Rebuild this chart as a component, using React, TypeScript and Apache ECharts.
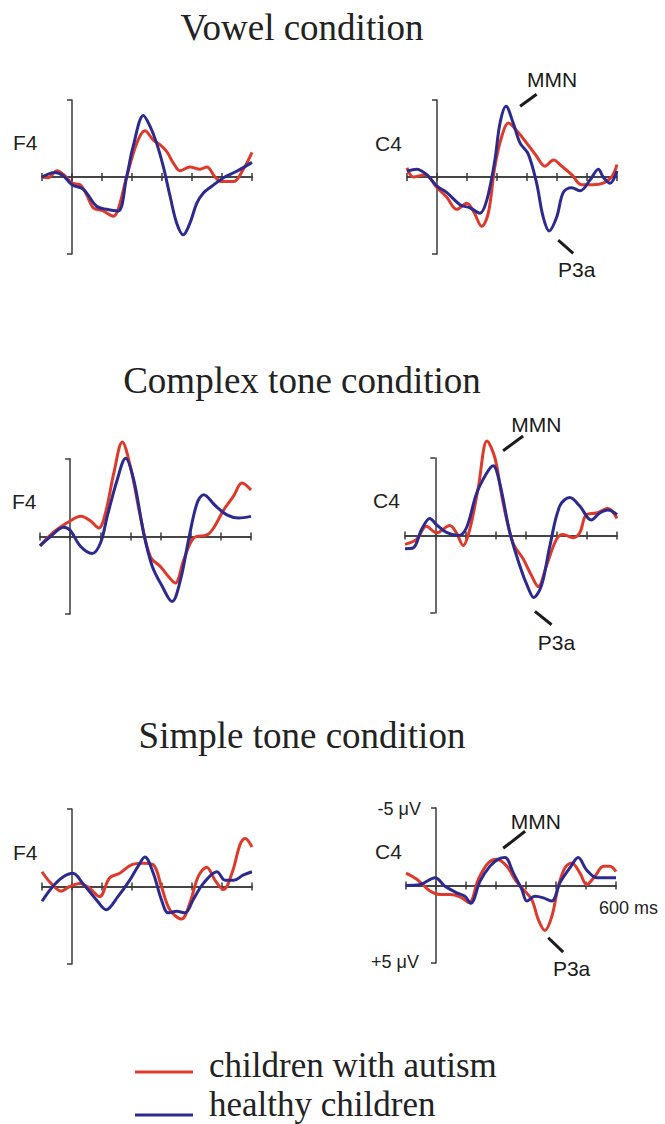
import React, { useEffect, useRef } from "react";
import * as echarts from "echarts";

// ---- Data: time (ms) vs amplitude (µV, negative plotted upward) ----
const vowelF4Autism = [[-100,0],[-80,0.05],[-50,-0.4],[-25,-0.1],[0,0.4],[27,0.5],[50,1.2],[71,2.0],[104,2.2],[138,2.55],[154,2.1],[182,0],[216,-2.2],[243,-3.0],[271,-2.4],[293,-2.1],[316,-1.65],[338,-0.9],[360,-0.4],[393,-0.65],[427,-0.5],[449,-0.65],[477,0],[499,0.3],[538,0.3],[571,-0.5],[600,-1.6]];
const vowelF4Healthy = [[-100,0],[-57,-0.3],[-30,-0.1],[0,0.5],[38,0.8],[82,1.9],[116,2.1],[154,2.2],[182,0],[204,-2.0],[238,-4.0],[260,-3.3],[282,-2.2],[304,-0.7],[327,1.25],[349,3.0],[371,3.75],[393,3.0],[416,1.7],[438,1.04],[466,0.6],[504,0.06],[549,-0.37],[600,-0.95]];
const vowelC4Autism = [[-100,-0.6],[-79,0],[-40,-0.15],[0,0.7],[32,1.3],[66,2.1],[99,1.7],[121,2.2],[149,3.2],[171,2.35],[193,-0.7],[216,-2.65],[238,-3.5],[266,-3.0],[299,-2.2],[332,-1.35],[360,-0.7],[388,-1.1],[416,-0.7],[449,-0.15],[482,0.5],[521,0.5],[554,0.4],[582,0],[600,-0.8]];
const vowelC4Healthy = [[-100,-0.37],[-68,-0.5],[-34,-0.15],[0,0.6],[32,1.0],[77,1.8],[110,2.0],[143,2.35],[166,1.5],[193,-1.1],[210,-3.5],[230,-4.6],[254,-3.5],[277,-2.2],[304,-1.5],[332,0.4],[354,2.6],[374,3.5],[399,2.6],[421,1.0],[449,0.7],[477,0.9],[510,0.2],[538,-0.5],[554,0],[577,0.4],[600,-0.4]];

const complexF4Autism = [[-100,0.6],[-54,-0.3],[0,-1.0],[35,-1.3],[68,-1.0],[95,-0.55],[117,-1.5],[145,-4.1],[173,-6.1],[200,-4.5],[233,-1.3],[266,1.3],[300,1.95],[327,2.6],[349,3.0],[377,1.5],[410,0.1],[454,-0.1],[476,-0.55],[509,-1.7],[542,-2.6],[570,-3.45],[600,-3.0]];
const complexF4Healthy = [[-100,0.6],[-65,0],[-21,-0.6],[0,-0.4],[35,0.65],[73,1.1],[101,0.4],[123,-1.3],[156,-3.65],[184,-5.05],[211,-3.65],[244,-0.2],[272,1.9],[305,3.2],[338,4.2],[366,2.8],[393,0.2],[421,-2.15],[443,-2.7],[481,-2.0],[520,-1.4],[559,-1.2],[600,-1.3]];
const complexC4Autism = [[-100,0.57],[-62,0.25],[-29,-0.6],[4,-0.17],[48,-0.65],[70,-0.17],[92,0.65],[114,-0.4],[142,-3.1],[171,-6.1],[197,-5.0],[224,-2.1],[257,0.5],[290,1.5],[318,2.6],[340,3.3],[367,1.95],[400,0.25],[422,-0.06],[455,0.15],[477,-0.17],[499,-1.35],[532,-1.45],[570,-1.75],[600,-1.1]];
const complexC4Healthy = [[-100,0.85],[-73,0.8],[-45,-0.4],[-18,-1.1],[4,-0.7],[37,-0.2],[76,0],[103,-0.5],[136,-2.7],[169,-4.0],[191,-4.5],[213,-3.35],[246,-0.2],[279,1.95],[307,3.4],[325,4.0],[351,3.2],[378,0.7],[411,-1.9],[444,-2.45],[477,-1.9],[515,-1.0],[543,-1.45],[570,-1.65],[600,-1.35]];

const simpleF4Autism = [[-100,-0.95],[-70,-0.2],[-36,0.3],[-8,0],[25,-0.2],[58,0.1],[92,0.65],[125,-0.55],[159,-0.85],[198,-1.4],[237,-1.5],[271,-1.4],[298,0],[326,1.5],[365,2.1],[393,1.05],[421,-0.65],[449,-1.25],[477,-0.4],[505,0.2],[533,-0.85],[561,-2.75],[577,-3.1],[600,-2.55]];
const simpleF4Healthy = [[-100,0.95],[-64,0],[-31,-0.6],[3,-0.85],[36,-0.2],[81,0.85],[114,1.5],[153,0.65],[192,-0.4],[220,-1.3],[243,-1.9],[271,-0.85],[298,0.85],[321,1.7],[349,1.6],[377,1.7],[404,0.85],[438,-0.2],[483,-0.95],[510,-0.4],[538,-0.4],[572,-0.75],[600,-0.95]];
const simpleC4Autism = [[-100,-0.8],[-64,-0.4],[-20,0.36],[13,0.58],[47,0.58],[80,0.73],[111,1.1],[141,-0.4],[174,-1.45],[202,-1.7],[236,-1.25],[263,-0.4],[291,0.25],[319,0.9],[341,2.2],[363,2.9],[386,2.0],[408,0.04],[430,-1.15],[452,-1.45],[480,-0.8],[502,-0.06],[530,-0.6],[558,-1.25],[580,-1.25],[600,-0.9]];
const simpleC4Healthy = [[-100,0],[-53,-0.06],[-3,-0.5],[30,0.05],[69,0.47],[97,0.7],[116,1.15],[147,-0.28],[180,-1.25],[208,-1.7],[230,-1.8],[258,-0.8],[286,0.25],[303,1.0],[330,0.7],[358,0.8],[386,1.0],[413,-0.17],[447,-1.15],[474,-1.8],[502,-1.0],[536,-0.5],[569,-0.5],[600,-0.5]];

// Annotation anchors (data coords): leader line start/end, label position
const vowelMMN = { name: "MMN", line: [[277, -4.6], [332, -5.37]], label: [384, -6.35] };
const vowelP3a = { name: "P3a", line: [[404, 4.1], [454, 4.96]], label: [466, 6.0] };
const complexMMN = { name: "MMN", line: [[224, -5.47], [290, -6.42]], label: [334, -7.16] };
const complexP3a = { name: "P3a", line: [[329, 4.9], [384, 5.76]], label: [400, 6.93] };
const simpleMMN = { name: "MMN", line: [[224, -2.4], [297, -3.5]], label: [333, -4.14] };
const simpleP3a = { name: "P3a", line: [[374, 3.37], [424, 4.3]], label: [452, 5.36] };

const titles = ["Vowel condition", "Complex tone condition", "Simple tone condition"];
const legendNames = ["children with autism", "healthy children"];

const RED = "#de3a2b";
const BLUE = "#2c2a8f";
const AXIS = "#3a3a3a";
const SANS = "'Liberation Sans', Arial, sans-serif";
const SERIF = "'Liberation Serif', 'Times New Roman', serif";
const EXT = 8; // extended µV range of the annotation overlay

const panels = [
  { grid: { left: 42, top: 100, width: 210, height: 154 }, autism: vowelF4Autism, healthy: vowelF4Healthy, ann: null },
  { grid: { left: 407, top: 100, width: 210, height: 154 }, autism: vowelC4Autism, healthy: vowelC4Healthy, ann: [vowelMMN, vowelP3a] },
  { grid: { left: 40, top: 459, width: 211, height: 155 }, autism: complexF4Autism, healthy: complexF4Healthy, ann: null },
  { grid: { left: 405, top: 458, width: 212, height: 155 }, autism: complexC4Autism, healthy: complexC4Healthy, ann: [complexMMN, complexP3a] },
  { grid: { left: 42, top: 809, width: 210, height: 155 }, autism: simpleF4Autism, healthy: simpleF4Healthy, ann: null },
  { grid: { left: 406, top: 808, width: 210, height: 155 }, autism: simpleC4Autism, healthy: simpleC4Healthy, ann: [simpleMMN, simpleP3a] },
];

const lineStyleAxis = { color: AXIS, width: 1.5 };

function buildOption() {
  const grid: any[] = [];
  const xAxis: any[] = [];
  const yAxis: any[] = [];
  const series: any[] = [];

  panels.forEach((p, i) => {
    grid.push({ ...p.grid, containLabel: false });
    ["bottom", "top"].forEach((pos, k) => {
      xAxis.push({
        gridIndex: i,
        type: "value",
        position: pos,
        min: -100,
        max: 600,
        interval: 100,
        axisLine: { show: true, onZero: true, onZeroAxisIndex: 2 * i + k, lineStyle: lineStyleAxis },
        axisTick: { show: true, inside: false, length: 4, lineStyle: lineStyleAxis },
        axisLabel: { show: false },
        splitLine: { show: false },
      });
    });
    // main (visible) y axis
    yAxis.push({
      gridIndex: i,
      type: "value",
      position: "left",
      min: -5,
      max: 5,
      interval: 10,
      inverse: true,
      axisLine: { show: true, onZero: true, lineStyle: lineStyleAxis },
      axisTick: { show: true, inside: false, length: 5, lineStyle: lineStyleAxis },
      axisLabel: { show: false },
      splitLine: { show: false },
    });
    // helper y axis (hidden) so the second x axis can also sit on zero
    yAxis.push({
      gridIndex: i,
      type: "value",
      position: "right",
      min: -5,
      max: 5,
      inverse: true,
      axisLine: { show: false, onZero: false },
      axisTick: { show: false },
      axisLabel: { show: false },
      splitLine: { show: false },
    });

    const common = {
      type: "line",
      xAxisIndex: 2 * i,
      yAxisIndex: 2 * i,
      smooth: 0.35,
      showSymbol: false,
      symbol: "none",
      clip: false,
      silent: true,
    };
    series.push({
      ...common,
      name: legendNames[0],
      data: p.autism,
      z: 3,
      lineStyle: { color: RED, width: 3 },
      itemStyle: { color: RED },
    });
    series.push({
      ...common,
      name: legendNames[1],
      data: p.healthy,
      z: 4,
      lineStyle: { color: BLUE, width: 3 },
      itemStyle: { color: BLUE },
    });
  });

  // annotation overlays: same scale as the panel, wider µV range
  panels.forEach((p) => {
    if (!p.ann) return;
    const g = p.grid;
    const gi = grid.length;
    grid.push({
      left: g.left,
      width: g.width,
      top: g.top - ((EXT - 5) / 10) * g.height,
      height: ((2 * EXT) / 10) * g.height,
      containLabel: false,
    });
    const xi = xAxis.length;
    xAxis.push({ gridIndex: gi, type: "value", min: -100, max: 600, show: false });
    const yi = yAxis.length;
    yAxis.push({ gridIndex: gi, type: "value", min: -EXT, max: EXT, inverse: true, show: false });
    series.push({
      type: "scatter",
      name: "annotations",
      xAxisIndex: xi,
      yAxisIndex: yi,
      silent: true,
      clip: false,
      symbol: "rect",
      symbolSize: 1,
      itemStyle: { color: "rgba(255,255,255,0)", opacity: 1 },
      label: {
        show: true,
        position: "inside",
        formatter: "{b}",
        color: "#1a1a1a",
        opacity: 1,
        fontSize: 21,
        fontFamily: SANS,
        textBorderWidth: 0,
      },
      data: p.ann.map((a: any) => ({ name: a.name, value: a.label })),
      markLine: {
        silent: true,
        symbol: ["none", "none"],
        label: { show: false },
        lineStyle: { color: "#1c1c1c", width: 3, type: "solid", opacity: 1 },
        data: p.ann.map((a: any) => [{ coord: a.line[0] }, { coord: a.line[1] }]),
      },
    });
  });

  const txt = (text: string, x: number, y: number, size: number, family: string, align = "left") => ({
    type: "text",
    x,
    y,
    silent: true,
    style: { text, fontSize: size, fontFamily: family, fill: "#222", align, verticalAlign: "middle" },
  });
  const swatch = (y: number, color: string) => ({
    type: "line",
    silent: true,
    shape: { x1: 135, y1: y, x2: 193, y2: y },
    style: { stroke: color, lineWidth: 3 },
  });

  const graphic = [
    txt(titles[0], 302, 27, 37, SERIF, "center"),
    txt(titles[1], 302, 380, 37, SERIF, "center"),
    txt(titles[2], 302, 735, 37, SERIF, "center"),
    txt("F4", 13, 142, 21, SANS),
    txt("C4", 375, 143, 21, SANS),
    txt("F4", 12, 501, 21, SANS),
    txt("C4", 373, 500, 21, SANS),
    txt("F4", 13, 852, 21, SANS),
    txt("C4", 375, 851, 21, SANS),
    txt("-5 \u03bcV", 421, 809, 18, SANS, "right"),
    txt("+5 \u03bcV", 419, 962, 18, SANS, "right"),
    txt("600 ms", 599, 908, 18, SANS),
    // legend
    swatch(1072, RED),
    txt(legendNames[0], 209, 1065, 35, SERIF),
    swatch(1115, BLUE),
    txt(legendNames[1], 209, 1104, 35, SERIF),
  ];

  return {
    animation: false,
    backgroundColor: "#ffffff",
    grid,
    xAxis,
    yAxis,
    series,
    graphic,
  };
}

export default function App() {
  const ref = useRef<HTMLDivElement>(null);
  useEffect(() => {
    if (!ref.current) return;
    const chart = echarts.init(ref.current, undefined, { renderer: "svg" });
    chart.setOption(buildOption() as any);
    return () => chart.dispose();
  }, []);
  return (
    <div
      ref={ref}
      style={{ position: "absolute", left: 0, top: 0, width: 665, height: 1124, background: "#fff" }}
    />
  );
}
